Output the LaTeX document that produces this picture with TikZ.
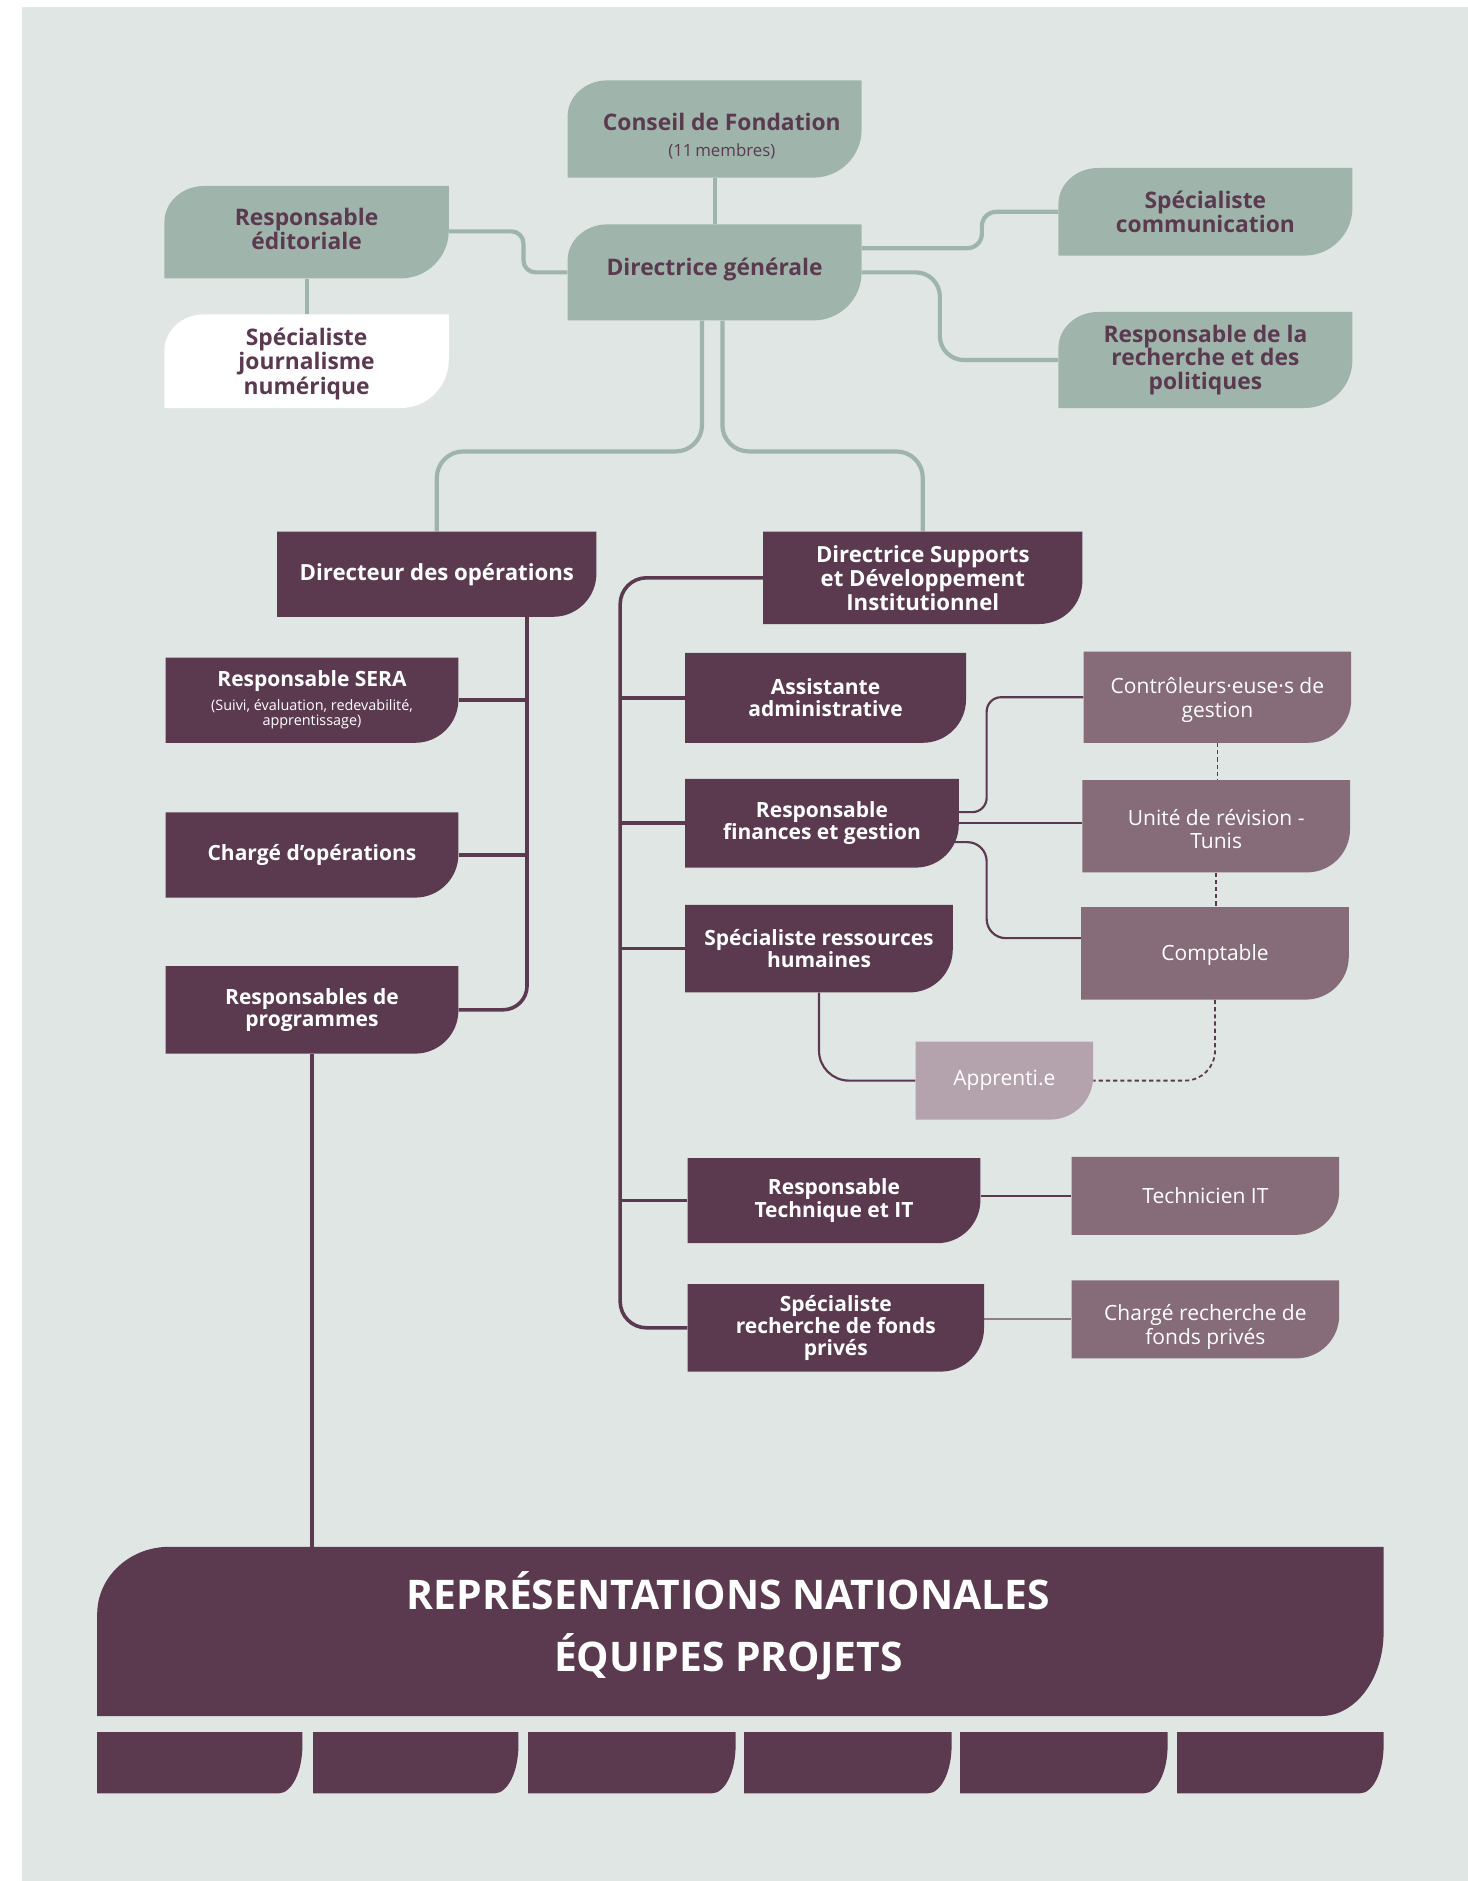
\documentclass[tikz,border=0pt]{standalone}
\usepackage{fontspec}
\setmainfont{Open Sans}
\usetikzlibrary{calc}
\definecolor{bgc}{HTML}{E0E6E3}
\definecolor{sage}{HTML}{9FB5AB}
\definecolor{plum}{HTML}{5B3A50}
\definecolor{mauve}{HTML}{866B78}
\definecolor{lmauve}{HTML}{B4A3AD}
\definecolor{lline}{HTML}{8F7D88}
\newcommand\fSage{\fontsize{19}{19.5}\selectfont\bfseries}
\newcommand\fPl{\fontsize{17.5}{18.5}\selectfont\bfseries}
\newcommand\fMv{\fontsize{17.5}{19.5}\selectfont}
\newcommand\fTitle{\fontsize{34}{52}\selectfont\bfseries}
\newcommand\shiftv[2]{\raisebox{#1}[\height][\depth]{\begin{tabular}{@{}c@{}}#2\end{tabular}}}
\pgfdeclarelayer{back}
\pgfdeclarelayer{lines}
\pgfsetlayers{back,lines,main}
\tikzset{
  sz/.style 2 args={minimum width=#1pt, minimum height=#2pt},
  cshape/.style n args={5}{path picture={
    \fill[#1] (path picture bounding box.south west)
      -- ([yshift=-#3]path picture bounding box.north west)
      .. controls ([yshift=-0.4477*#3]path picture bounding box.north west) and ([xshift=0.4477*#2]path picture bounding box.north west) .. ([xshift=#2]path picture bounding box.north west)
      -- (path picture bounding box.north east)
      -- ([yshift=#5]path picture bounding box.south east)
      .. controls ([yshift=0.4477*#5]path picture bounding box.south east) and ([xshift=-0.4477*#4]path picture bounding box.south east) .. ([xshift=-#4]path picture bounding box.south east)
      -- cycle;}},
  base/.style={rectangle, inner sep=0pt, align=center},
  sagebox/.style={base, cshape={sage}{33pt}{30pt}{40pt}{40pt}, text=plum, font=\fSage},
  whitebox/.style={base, cshape={white}{33pt}{30pt}{40pt}{40pt}, text=plum, font=\fSage},
  plumbox/.style={base, cshape={plum}{0pt}{0pt}{36pt}{36pt}, text=white, font=\fPl},
  mauvebox/.style={base, cshape={mauve}{0pt}{0pt}{36pt}{36pt}, text=white, font=\fMv},
  lmauvebox/.style={base, cshape={lmauve}{0pt}{0pt}{36pt}{36pt}, text=white, font=\fMv},
  bigbox/.style={base, cshape={plum}{60pt}{56pt}{52pt}{70pt}, text=white, font=\fTitle},
  tilebox/.style={base, cshape={plum}{0pt}{0pt}{20pt}{40pt}},
  sline/.style={draw=sage, line width=3.5pt},
  pline/.style={draw=plum, line width=3pt},
  tline/.style={draw=plum, line width=1.8pt},
  dline/.style={draw=plum, line width=1.5pt, dash pattern=on 3.5pt off 2.5pt},
  liteline/.style={draw=lline, line width=1.8pt},
}
\begin{document}
\begin{tikzpicture}[x=1pt,y=-1pt]
\useasboundingbox (0,0) rectangle (1223.3,1567.5);
\begin{pgfonlayer}{back}
\fill[white] (0,0) rectangle (1223.3,1567.5);
\fill[bgc] (18,6) rectangle (1223.3,1567.5);
\end{pgfonlayer}

% top level (sage)
\node[sagebox, sz={245}{81}] (cf) at (595.5,107.5) {\hspace*{12pt}\shiftv{-8pt}{Conseil de Fondation\\[2pt]\fontsize{14}{16}\selectfont\mdseries(11\,membres)}};
\node[sagebox, sz={245}{80}] (dg) at (595.5,227) {\shiftv{2pt}{Directrice générale}};
\node[sagebox, sz={237}{77}] (ed) at (255.5,193.5) {\shiftv{0pt}{Responsable\\éditoriale}};
\node[whitebox, sz={237}{78}] (jn) at (255.5,301) {\shiftv{-3pt}{Spécialiste\\journalisme\\numérique}};
\node[sagebox, sz={245}{73}] (comm) at (1004.5,176.5) {Spécialiste\\communication};
\node[sagebox, sz={245}{80}] (rech) at (1004.5,300) {Responsable de la\\recherche et des\\politiques};

% directors
\node[plumbox, sz={266}{71}, font=\fontsize{18.5}{19.5}\selectfont\bfseries] (dop) at (364,478.5) {Directeur des opérations};
\node[plumbox, sz={266}{77}, font=\fontsize{18.5}{20}\selectfont\bfseries] (dsd) at (769,481.5) {Directrice Supports\\et Développement\\Institutionnel};

% left column
\node[plumbox, sz={244}{71}] (sera) at (260,583.5) {\shiftv{-1pt}{Responsable SERA\\[2pt]\fontsize{12}{13}\selectfont\mdseries(Suivi, évaluation, redevabilité,\\[-6pt]\fontsize{12}{13}\selectfont\mdseries apprentissage)}};
\node[plumbox, sz={244}{71}] (charg) at (260,712.5) {Chargé d’opérations};
\node[plumbox, sz={244}{73}] (prog) at (260,841.5) {Responsables de\\programmes};

% right column
\node[plumbox, sz={234}{75}] (asst) at (688,581.5) {Assistante\\administrative};
\node[plumbox, sz={228}{74}] (fin) at (685,686) {Responsable\\finances et gestion};
\node[plumbox, sz={223}{73}] (rh) at (682.5,790.5) {Spécialiste ressources\\humaines};
\node[plumbox, sz={244}{71}] (tech) at (695,1000.5) {Responsable\\Technique et IT};
\node[plumbox, sz={247}{73}] (fonds) at (696.5,1106.5) {Spécialiste\\recherche de fonds\\privés};

% sub units
\node[mauvebox, sz={223}{76}] (ctrl) at (1014.5,581) {\shiftv{-3pt}{Contrôleurs·euse·s de\\gestion}};
\node[mauvebox, sz={223}{77}] (unit) at (1013.5,688.5) {\shiftv{-5pt}{Unité de révision -\\Tunis}};
\node[mauvebox, sz={223}{77}] (comp) at (1012.5,794.5) {\shiftv{-2pt}{Comptable}};
\node[lmauvebox, sz={148}{65}] (appr) at (837,900.5) {Apprenti.e};
\node[mauvebox, sz={223}{65}] (techit) at (1004.5,996.5) {Technicien IT};
\node[mauvebox, sz={223}{65}] (chrf) at (1004.5,1099.5) {\shiftv{-7pt}{Chargé recherche de\\fonds privés}};

% bottom
\node[bigbox, sz={1072}{141}] (rep) at (617,1359.5) {\shiftv{3pt}{\hspace*{-20pt}REPRÉSENTATIONS NATIONALES\\\hspace*{-20pt}ÉQUIPES PROJETS}};
\node[tilebox, sz={171}{51}] (t1) at (166.5,1469) {};
\node[tilebox, sz={171}{51}] (t2) at (346.5,1469) {};
\node[tilebox, sz={173}{51}] (t3) at (526.5,1469) {};
\node[tilebox, sz={173}{51}] (t4) at (706.5,1469) {};
\node[tilebox, sz={173}{51}] (t5) at (886.5,1469) {};
\node[tilebox, sz={172}{51}] (t6) at (1067,1469) {};

\begin{pgfonlayer}{lines}
% sage connectors
\draw[sline] (cf.south) -- (dg.north);
\draw[sline] (ed.south) -- (jn.north);
\draw[sline, rounded corners=10pt] ($(ed.north east)+(0,38)$) -- ++(62,0) |- (dg.west);
\draw[sline, rounded corners=12pt] ($(dg.north east)+(0,20)$) -- ++(100,0) |- (comm.west);
\draw[sline, rounded corners=20pt] (dg.east) -- ++(65,0) |- (rech.west);
\draw[sline, rounded corners=22pt] ($(dg.south)+(-10.5,0)$) -- ++(0,109) -| (dop.north);
\draw[sline, rounded corners=22pt] ($(dg.south)+(6.5,0)$) -- ++(0,109) -| (dsd.north);

% operations branch
\coordinate (lb) at ($(dop.south east)+(-58,0)$);
\draw[pline, rounded corners=20pt] (lb) |- (prog.east);
\draw[pline] (sera.east) -- (sera.east -| lb);
\draw[pline] (charg.east) -- (charg.east -| lb);
\draw[pline] (prog.south) -- (prog.south |- rep.north);

% supports branch
\coordinate (rb) at ($(fonds.west)+(-56,0)$);
\draw[pline, rounded corners=22pt] (dsd.west) -| (rb) -- (fonds.west);
\draw[pline] (asst.west) -- (asst.west -| rb);
\draw[pline] (fin.west) -- (fin.west -| rb);
\draw[pline] (rh.west) -- (rh.west -| rb);
\draw[pline] (tech.west) -- (tech.west -| rb);

% finance sub units
\draw[tline, rounded corners=12pt] ($(fin.north east)+(0,28)$) -- ++(23,0) |- (ctrl.west);
\draw[tline] (fin.east) -- (fin.east -| unit.west);
\draw[tline, rounded corners=16pt] ($(fin.north east)+(-4,53)$) -- ++(27,0) |- ($(comp.north west)+(0,26)$);
\draw[dline] (ctrl.south) -- (ctrl.south |- unit.north);
\draw[dline] (unit.south) -- (unit.south |- comp.north);
\draw[dline, rounded corners=25pt] (comp.south) |- (appr.east);
\draw[tline, rounded corners=25pt] (rh.south) |- (appr.west);
\draw[tline] (techit.west -| tech.east) -- (techit.west);
\draw[liteline] (chrf.west -| fonds.east) -- (chrf.west);
\end{pgfonlayer}
\end{tikzpicture}
\end{document}
